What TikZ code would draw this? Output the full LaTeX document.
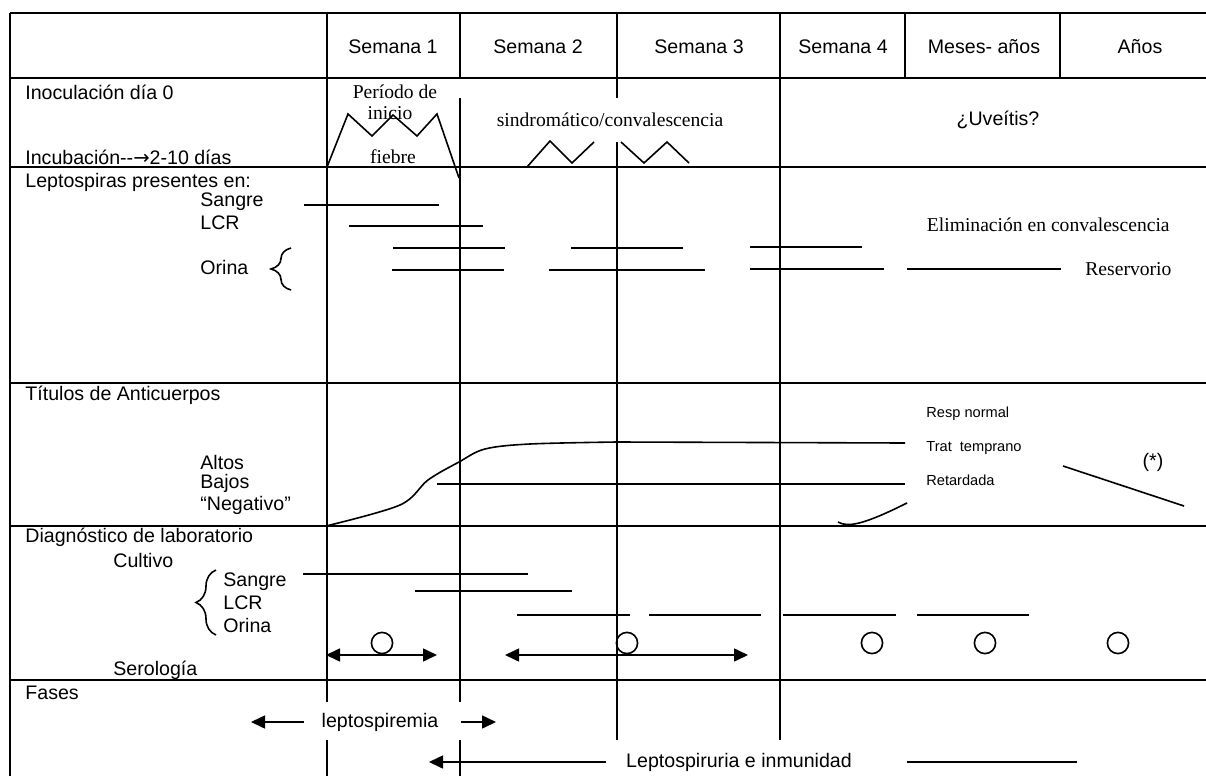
\documentclass[tikz,border=0pt]{standalone}
\usepackage{fontspec}
\setmainfont{Liberation Sans}
\newfontfamily\timesfont{Liberation Serif}
\newfontfamily\symfont{DejaVu Sans}
\usetikzlibrary{arrows.meta,decorations.pathreplacing}

\tikzset{
  grid/.style={line width=1pt},
  bar/.style={line width=0.8pt},
  lbl/.style={anchor=west, inner sep=0pt, font=\fontsize{9.8}{11}\selectfont},
  ctr/.style={inner sep=0pt, font=\fontsize{9.8}{11}\selectfont},
  rom/.style={inner sep=0pt, font=\fontsize{9.8}{11}\selectfont\timesfont},
  tiny/.style={anchor=west, inner sep=0pt, font=\fontsize{7.3}{9}\selectfont},
  dbl/.style={line width=0.8pt, {Triangle[length=7pt,width=6.5pt]}-{Triangle[length=7pt,width=6.5pt]}},
  arr/.style={line width=0.8pt, -{Triangle[length=7pt,width=6.5pt]}},
  brc/.style={decorate, decoration={brace, amplitude=10pt}, line width=0.8pt}
}

\begin{document}
\begin{tikzpicture}[x=0.5pt, y=-0.5pt]
    \useasboundingbox (0,0) rectangle (1206,776);

    % Draw the table lines
    \foreach \y in {13,78,167,383,526,680}
        \draw[grid] (10,\y) -- (1206,\y);
    \draw[grid] (10,13) -- (10,776);
    \draw[grid] (327,13) -- (327,702) (327,740) -- (327,776);
    \draw[grid] (460,13) -- (460,78) (460,98) -- (460,702) (460,740) -- (460,776);
    \draw[grid] (617,13) -- (617,98) (617,142) -- (617,740);
    \draw[grid] (780,13) -- (780,740);
    \draw[grid] (905,13) -- (905,78);
    \draw[grid] (1060,13) -- (1060,78);

    % Labels for the header
    \node[ctr] (sem1) at (393,47) {Semana 1};
    \node[ctr] (sem2) at (538,47) {Semana 2};
    \node[ctr] (sem3) at (699,47) {Semana 3};
    \node[ctr] (sem4) at (843,47) {Semana 4};
    \node[ctr] (meses) at (984,47) {Meses- años};
    \node[ctr] (anos) at (1140,47) {Años};

    % Inoculation row and fever zigzags
    \node[lbl] (inoc) at (25,92) {Inoculación día 0};
    \node[lbl] (incub) at (25,157) {Incubación-{}-{\symfont →}2-10 días};
    \node[rom] (periodo) at (395,92) {Período de};
    \node[rom] (inicio) at (390,113) {inicio};
    \node[rom] (fiebre) at (393,157) {fiebre};
    \draw[bar] (327,167) -- (348,114) -- (372,136) -- (393,115) -- (417,136) -- (437,114) -- (459,178);
    \node[rom] (sindrom) at (610,120) {sindromático/convalescencia};
    \draw[bar] (527,167) -- (550,141) -- (572,163) -- (594,142);
    \draw[bar] (621,142) -- (644,163) -- (667,142) -- (689,163);
    \node[ctr] (uveitis) at (998,120) {¿Uveítis?};

    % Leptospiras present in
    \node[lbl] (lepto) at (25,182) {Leptospiras presentes en:};
    \node[lbl] (sangre) at (200,202) {Sangre};
    \node[lbl] (lcr) at (200,223) {LCR};
    \node[lbl] (orina) at (200,267) {Orina};
    \draw[brc] (291,290) -- (291,248);
    \draw[bar] (304,205) -- (439,205);
    \draw[bar] (349,226) -- (483,226);
    \draw[bar] (393,248) -- (505,248) (571,248) -- (683,248) (750,247) -- (862,247);
    \draw[bar] (392,270) -- (504,270) (549,270) -- (705,270) (750,269) -- (884,269) (907,269) -- (1061,269);
    \node[rom, anchor=east] (elim) at (1170,225) {Eliminación en convalescencia};
    \node[rom, anchor=west] (reserv) at (1085,269) {Reservorio};

    % Antibody titres
    \node[lbl] (titulos) at (25,395) {Títulos de Anticuerpos};
    \node[lbl] (altos) at (200,462) {Altos};
    \node[lbl] (bajos) at (200,483) {Bajos};
    \node[lbl] (negat) at (200,505) {“Negativo”};
    \draw[bar] plot[smooth, tension=0.55] coordinates {(326,526) (400,505) (428,480) (459,462) (485,449) (530,444) (617,442)} -- (905,443);
    \draw[bar] (437,484) -- (905,484);
    \node[tiny] (normal) at (926,414) {Resp normal};
    \node[tiny] (temprano) at (926,448) {Trat~ temprano};
    \node[tiny] (retard) at (926,480) {Retardada};
    \draw[bar] (838,522) .. controls (848,528) and (865,524) .. (907,503);
    \draw[bar] (1063,466) -- (1184,506);
    \node[ctr] (aster) at (1153,462) {(*)};

    % Laboratory diagnosis
    \node[lbl] (diag) at (25,537) {Diagnóstico de laboratorio};
    \node[lbl] (cultivo) at (113,560) {Cultivo};
    \node[lbl] (sangreb) at (223,582) {Sangre};
    \node[lbl] (lcrb) at (223,603) {LCR};
    \node[lbl] (orinab) at (223,625) {Orina};
    \draw[brc] (216,635) -- (216,570);
    \draw[bar] (303,574) -- (528,574);
    \draw[bar] (415,591) -- (572,591);
    \draw[bar] (517,615) -- (630,615) (649,615) -- (761,615) (783,615) -- (896,615) (917,615) -- (1029,615);
    \foreach \x in {382,627,872,985,1118}
        \draw[bar] (\x,643) circle[radius=5.3pt];
    \draw[dbl] (326,655) -- (437,655);
    \draw[dbl] (505,655) -- (748,655);
    \node[lbl] (serol) at (113,670) {Serología};

    % Phases
    \node[lbl] (fases) at (25,693) {Fases};
    \node[ctr] (lspemia) at (380,722) {leptospiremia};
    \draw[arr] (304,722) -- (251,722);
    \draw[arr] (461,722) -- (496,722);
    \node[ctr] (lspuria) at (739,762) {Leptospiruria e inmunidad};
    \draw[arr] (606,762) -- (429,762);
    \draw[bar] (907,762) -- (1077,762);
\end{tikzpicture}
\end{document}
